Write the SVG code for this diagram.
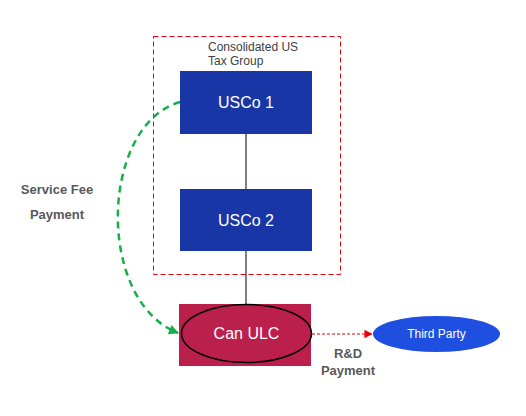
<svg xmlns="http://www.w3.org/2000/svg" width="526" height="416" viewBox="0 0 526 416">
<defs>
<style>
.box{fill:#1936a6;}
.wt{font-family:"Liberation Sans",Arial,sans-serif;fill:#ffffff;text-anchor:middle;}
.lbl{font-family:"Liberation Sans",Arial,sans-serif;fill:#595959;font-weight:bold;font-size:13px;text-anchor:middle;}
.grp{font-family:"Liberation Sans",Arial,sans-serif;fill:#404040;font-size:12px;}
</style>
<marker id="ag" viewBox="0 0 10 10" refX="9" refY="5" markerWidth="4" markerHeight="4" orient="auto" markerUnits="strokeWidth"><path d="M0,0L10,5L0,10z" fill="#16b04a"/></marker>
<marker id="ar" viewBox="0 0 10 10" refX="9" refY="5" markerWidth="7" markerHeight="7" orient="auto" markerUnits="strokeWidth"><path d="M0,0L10,5L0,10z" fill="#e8000b"/></marker>
</defs>
<rect width="526" height="416" fill="#ffffff"/>
<g id="group-box">
<rect x="153.5" y="36.5" width="187" height="238" fill="none" stroke="#e8000b" stroke-width="1" stroke-dasharray="5,3"/>
<text class="grp" x="208" y="51">Consolidated US</text>
<text class="grp" x="208" y="65">Tax Group</text>
</g>
<g id="connectors">
<line x1="246" y1="134" x2="246" y2="189" stroke="#000" stroke-width="1"/>
<line x1="246" y1="251" x2="246" y2="304" stroke="#000" stroke-width="1"/>
<path d="M180,102 C100,125 95,300 178,333" fill="none" stroke="#16b04a" stroke-width="2.5" stroke-dasharray="7,5" marker-end="url(#ag)"/>
<line x1="312" y1="334" x2="372" y2="334" stroke="#e8000b" stroke-width="1.2" stroke-dasharray="3,2" marker-end="url(#ar)"/>
</g>
<g id="usco1">
<rect class="box" x="180" y="71" width="132" height="63"/>
<text class="wt" x="246" y="108" font-size="16">USCo 1</text>
</g>
<g id="usco2">
<rect class="box" x="180" y="189" width="132" height="62"/>
<text class="wt" x="246" y="226" font-size="16">USCo 2</text>
</g>
<g id="canulc">
<rect x="179" y="304" width="132" height="62" fill="#bb1f4b"/>
<ellipse cx="246.5" cy="333.5" rx="65" ry="29" fill="none" stroke="#000" stroke-width="1.5"/>
<text class="wt" x="246.5" y="339" font-size="16">Can ULC</text>
</g>
<g id="thirdparty">
<ellipse cx="436.5" cy="334" rx="63.5" ry="18" fill="#1f4fe0"/>
<text class="wt" x="436.5" y="338" font-size="12">Third Party</text>
</g>
<g id="labels">
<text class="lbl" x="57" y="194">Service Fee</text>
<text class="lbl" x="57" y="219">Payment</text>
<text class="lbl" x="348" y="358">R&amp;D</text>
<text class="lbl" x="348" y="375">Payment</text>
</g>
</svg>
